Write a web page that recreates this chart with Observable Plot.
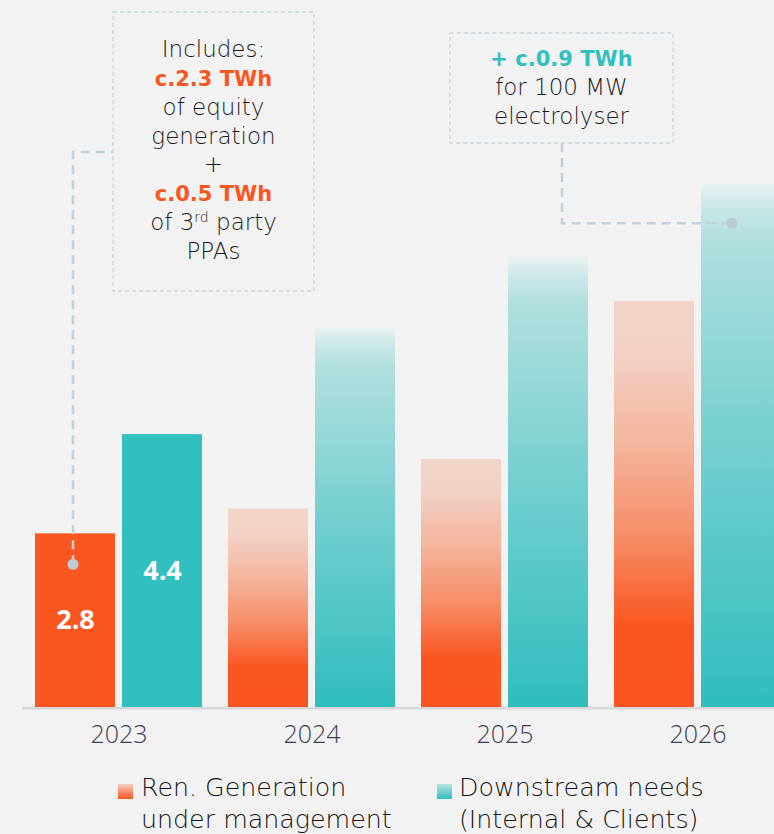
<!DOCTYPE html>
<html>
<head>
<meta charset="utf-8">
<script src="https://cdn.jsdelivr.net/npm/d3@7"></script>
<script src="https://cdn.jsdelivr.net/npm/@observablehq/plot@0.6"></script>
<style>
  html, body { margin: 0; padding: 0; background: #f2f2f2; overflow: hidden; }
  #wrap { position: relative; width: 774px; height: 834px; overflow: hidden; font-family: "Open Sans", sans-serif; }
  .legend-text { position: absolute; font-family: "DejaVu Sans", sans-serif; font-size: 25.3px; line-height: 32px; font-weight: 200; color: #151515; white-space: pre; }
  .swatch { position: absolute; width: 15px; height: 15px; }
</style>
</head>
<body>
<svg width="0" height="0" style="position:absolute">
  <defs>
    <linearGradient id="gradGen" x1="0" y1="0" x2="0" y2="1">
      <stop offset="0" stop-color="#f2d4c9"/>
      <stop offset="0.12" stop-color="#f2d2c6"/>
      <stop offset="0.35" stop-color="#f4b59c"/>
      <stop offset="0.58" stop-color="#f68d66"/>
      <stop offset="0.8" stop-color="#fa5620"/>
      <stop offset="1" stop-color="#fa5520"/>
    </linearGradient>
    <linearGradient id="gradNeed" x1="0" y1="0" x2="0" y2="1">
      <stop offset="0" stop-color="#e9f1f1"/>
      <stop offset="0.035" stop-color="#cfe9e9"/>
      <stop offset="0.1" stop-color="#b1dfdf"/>
      <stop offset="0.5" stop-color="#74cfcf"/>
      <stop offset="1" stop-color="#30bdbd"/>
    </linearGradient>
    <linearGradient id="swGen" x1="0" y1="0" x2="0" y2="1">
      <stop offset="0" stop-color="#f4cdbf"/>
      <stop offset="1" stop-color="#fa5520"/>
    </linearGradient>
    <linearGradient id="swNeed" x1="0" y1="0" x2="0" y2="1">
      <stop offset="0" stop-color="#b6e2e2"/>
      <stop offset="1" stop-color="#33bfbf"/>
    </linearGradient>
  </defs>
</svg>
<div id="wrap"></div>
<script>
// Energy balance (TWh): renewable generation under management vs downstream needs
const years = ["2023", "2024", "2025", "2026"];
const seriesKeys = ["gen", "need"];
const seriesLabels = ["Ren. Generation\nunder management", "Downstream needs\n(Internal & Clients)"];
const generation = [2.8, 3.2, 4.0, 6.55];
const downstream = [4.4, 6.1, 7.25, 8.43];
const reportedYears = ["2023"];          // solid bars; later years are projections
const equityGeneration = 2.3;             // share of 2023 generation from own assets
const thirdPartyPPAs = 0.5;               // share of 2023 generation from 3rd party PPAs
const electrolyserNeed = 0.9;             // added 2026 demand for the electrolyser
const electrolyserLevel = 7.8;            // level on the 2026 demand bar where it is flagged

const COLORS = {gen: "#fa5620", need: "#32bfbf", guide: "#c3d2da", text: "#1c1c1c", axis: "#3a4052"};
const NOTE_FONT = "'DejaVu Sans', sans-serif";

const rows = years.flatMap((year, i) => [
  {year, series: "gen", value: generation[i], reported: reportedYears.includes(year)},
  {year, series: "need", value: downstream[i], reported: reportedYears.includes(year)}
]);

const chart = Plot.plot({
  width: 794,
  height: 760,
  marginTop: 0,
  marginBottom: 53,
  marginLeft: 22,
  marginRight: 0,
  style: {
    background: "transparent",
    fontFamily: "'Open Sans', sans-serif",
    fontSize: "25px",
    fontWeight: 300,
    color: COLORS.axis,
    maxWidth: "none",
    overflow: "visible"
  },
  fx: {domain: years, paddingInner: 26 / 193, paddingOuter: 13 / 193, round: false,
       axis: "bottom", tickSize: 0, tickPadding: 18, label: null},
  x: {domain: seriesKeys, paddingInner: 7 / 87, paddingOuter: 0, round: false, axis: null},
  y: {domain: [0, 11.4], axis: null},
  marks: [
    Plot.barY(rows, {filter: d => d.reported && d.series === "gen", fx: "year", x: "series", y: "value", fill: COLORS.gen}),
    Plot.barY(rows, {filter: d => d.reported && d.series === "need", fx: "year", x: "series", y: "value", fill: COLORS.need}),
    Plot.barY(rows, {filter: d => !d.reported && d.series === "gen", fx: "year", x: "series", y: "value", fill: "url(#gradGen)"}),
    Plot.barY(rows, {filter: d => !d.reported && d.series === "need", fx: "year", x: "series", y: "value", fill: "url(#gradNeed)"}),
    Plot.text(rows, {filter: d => d.reported, fx: "year", x: "series", y: d => d.value / 2,
                     text: d => d.value.toFixed(1), fill: "white", fontSize: 27, fontWeight: 700})
  ]
});

document.getElementById("wrap").appendChild(chart);

// Scales used to place the baseline and the call-out guides
const fx = chart.scale("fx"), xs = chart.scale("x"), ys = chart.scale("y");
const cx = (year, s) => fx.apply(year) + (xs.apply(s) - xs.range[0]) + xs.bandwidth / 2;
const svg = d3.select(chart);
const layer = svg.append("g").attr("class", "annotations");

// baseline
const y0 = ys.apply(0);
layer.append("line")
  .attr("x1", fx.range[0]).attr("x2", fx.range[1])
  .attr("y1", y0 + 1.25).attr("y2", y0 + 1.25)
  .attr("stroke", "#d8d8d8").attr("stroke-width", 2.5);

function callout(box, lines, guide, anchor) {
  layer.append("rect")
    .attr("x", box.x).attr("y", box.y).attr("width", box.w).attr("height", box.h)
    .attr("fill", "none").attr("stroke", "#ccd8de").attr("stroke-width", 1.4)
    .attr("stroke-dasharray", "4,3");
  layer.append("path")
    .attr("d", guide)
    .attr("fill", "none").attr("stroke", COLORS.guide).attr("stroke-width", 2.6)
    .attr("stroke-dasharray", "9,6");
  layer.append("circle")
    .attr("cx", anchor[0]).attr("cy", anchor[1]).attr("r", 5.5)
    .attr("fill", "#bccbd3");
  const cxBox = box.x + box.w / 2;
  lines.forEach((ln, i) => {
    const parts = (Array.isArray(ln) ? ln : [ln]).map(p => typeof p === "string" ? {t: p} : p);
    const t = layer.append("text")
      .attr("x", cxBox).attr("y", box.firstBaseline + i * box.step)
      .attr("text-anchor", "middle")
      .attr("font-family", NOTE_FONT)
      .attr("font-size", 23).attr("font-weight", 200)
      .attr("fill", COLORS.text);
    parts.forEach(p => {
      const sp = t.append("tspan").text(p.t);
      if (p.color) sp.attr("fill", p.color).attr("font-weight", 700).attr("font-size", 21);
      if (p.sup) sp.attr("font-size", 14).attr("dy", -8);
      if (p.after) sp.attr("dy", 8);
    });
  });
}

// Call-out on the 2023 generation bar
const box1 = {x: 113, y: 12, w: 201, h: 279, firstBaseline: 57, step: 28.85};
const a1 = [cx("2023", "gen") - 2, ys.apply(equityGeneration)];
callout(box1, [
  "Includes:",
  {t: `c.${equityGeneration.toFixed(1)} TWh`, color: COLORS.gen},
  "of equity",
  "generation",
  "+",
  {t: `c.${thirdPartyPPAs.toFixed(1)} TWh`, color: COLORS.gen},
  ["of 3", {t: "rd", sup: true}, {t: " party", after: true}],
  "PPAs"
], `M${a1[0]},${a1[1]}V152H${box1.x}`, a1);

// Call-out on the 2026 demand bar
const box2 = {x: 450, y: 33, w: 223, h: 110, firstBaseline: 66, step: 29};
const a2 = [cx("2026", "need") - 9, ys.apply(electrolyserLevel)];
callout(box2, [
  {t: `+ c.${electrolyserNeed.toFixed(1)} TWh`, color: COLORS.need},
  "for 100 MW",
  "electrolyser"
], `M562,${box2.y + box2.h}V${a2[1]}H${a2[0]}`, a2);

// Legend below the chart
const wrap = d3.select("#wrap");
const legendPos = [{sw: 118, tx: 141, fill: "url(#swGen)"}, {sw: 437, tx: 459, fill: "url(#swNeed)"}];
seriesLabels.forEach((label, i) => {
  const p = legendPos[i];
  wrap.append("svg").attr("class", "swatch")
    .style("left", p.sw + "px").style("top", "784px")
    .attr("width", 15).attr("height", 15)
    .append("rect").attr("width", 15).attr("height", 15).attr("fill", p.fill);
  wrap.append("div").attr("class", "legend-text")
    .style("left", p.tx + "px").style("top", "772px")
    .text(label);
});
</script>
</body>
</html>
